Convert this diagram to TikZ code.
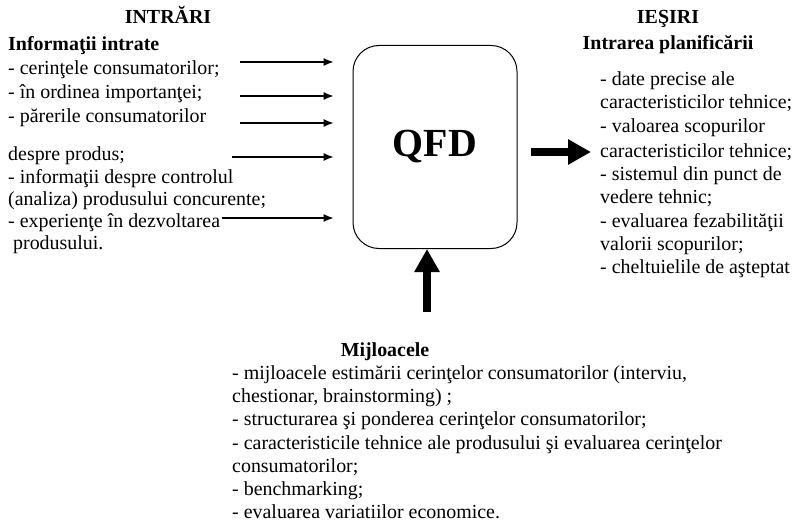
\documentclass[tikz,border=0pt]{standalone}
\usepackage{fontspec}
\setmainfont{Liberation Serif}
\usetikzlibrary{arrows.meta}
\begin{document}
\begin{tikzpicture}[x=1bp,y=-1bp,
  txt/.style={inner sep=0pt, anchor=base west, font=\fontsize{20}{23}\selectfont},
  hdr/.style={inner sep=0pt, anchor=base, font=\bfseries\fontsize{20}{23}\selectfont},
  thin/.style={line width=1.1bp, -{Latex[length=10bp,width=8bp]}},
  thick/.style={line width=8bp, -{Triangle[length=23bp,width=24bp]}}]
\useasboundingbox (0,0) rectangle (795,523);

% central block
\node[draw, line width=1bp, rounded corners=26bp, minimum width=164bp,
      minimum height=203bp, inner sep=0pt,
      font=\bfseries\fontsize{40}{40}\selectfont] (qfd) at (435,147)
      {\raisebox{-5bp}{QFD}};

% inputs
\node[hdr] (inhead) at (168,24) {INTRĂRI};
\node[hdr, anchor=base west] (insub) at (8,51) {Informaţii intrate};
\foreach \y/\t [count=\i] in {
  75/{- cerinţele consumatorilor;},
  99/{- în ordinea importanţei;},
  123/{- părerile consumatorilor},
  161/{despre produs;},
  184/{- informaţii despre controlul},
  206/{(analiza) produsului concurente;},
  228/{- experienţe în dezvoltarea},
  250/{\ produsului.}}
  \node[txt] (in\i) at (8,\y) {\t};

\foreach \y [count=\i] in {62,96,123,157,218}
  \coordinate (a\i) at (240,\y);
\coordinate (a4) at (232,157);
\coordinate (a5) at (222,218);
\foreach \i in {1,...,5}
  \draw[thin] (a\i) -- ([xshift=-19bp]qfd.west |- a\i);

% outputs
\node[hdr] (outhead) at (668,24) {IEŞIRI};
\node[hdr] (outsub) at (668,50) {Intrarea planificării};
\foreach \y/\t [count=\i] in {
  86/{- date precise ale},
  109/{caracteristicilor tehnice;},
  133/{- valoarea scopurilor},
  158/{caracteristicilor tehnice;},
  181/{- sistemul din punct de},
  204/{vedere tehnic;},
  228/{- evaluarea fezabilităţii},
  251/{valorii scopurilor;},
  274/{- cheltuielile de aşteptat}}
  \node[txt] (out\i) at (600,\y) {\t};

\coordinate (b) at (591,152);
\draw[thick] ([xshift=13bp]qfd.east |- b) -- (b);

% means
\coordinate (c) at (427,312);
\draw[thick] (c) -- (qfd.south -| c);
\node[hdr] (mhead) at (385,356) {Mijloacele};
\foreach \y/\t [count=\i] in {
  379/{- mijloacele estimării cerinţelor consumatorilor (interviu,},
  402/{chestionar, brainstorming) ;},
  425/{- structurarea şi ponderea cerinţelor consumatorilor;},
  449/{- caracteristicile tehnice ale produsului şi evaluarea cerinţelor},
  472/{consumatorilor;},
  495/{- benchmarking;},
  518/{- evaluarea variatiilor economice.}}
  \node[txt] (m\i) at (232,\y) {\t};
\end{tikzpicture}
\end{document}
